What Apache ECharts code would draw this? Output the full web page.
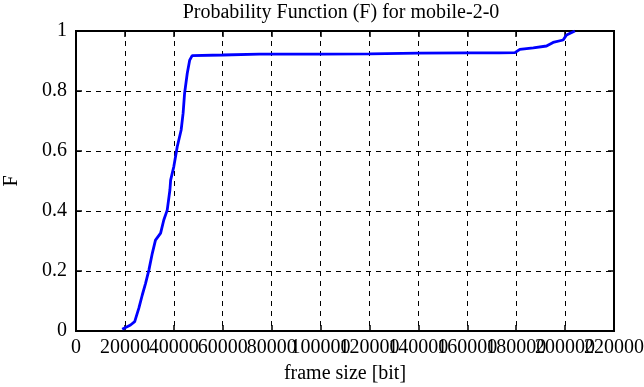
<!DOCTYPE html>
<html>
<head>
<meta charset="utf-8">
<script src="https://cdn.jsdelivr.net/npm/echarts@6/dist/echarts.min.js"></script>
<style>
html,body{margin:0;padding:0;background:#fff;}
#chart{width:644px;height:387px;}
</style>
</head>
<body>
<div id="chart"></div>
<script>
var titleText = 'Probability Function (F) for mobile-2-0';
var xName = 'frame size [bit]';
var yName = 'F';
var frameSize = [18900, 22300, 24000, 25700, 27100, 28450, 29800, 31200, 32500, 34600, 35900, 37300, 38400, 38700, 40000, 41400, 43000, 43800, 44400, 45500, 46500, 47500, 48200, 60000, 75000, 100000, 120000, 140000, 160000, 173000, 179500, 181500, 187000, 192400, 195100, 199200, 200600, 204000];
var probF =     [0.006, 0.020, 0.031, 0.076, 0.120, 0.159, 0.203, 0.259, 0.303, 0.326, 0.370, 0.403, 0.470, 0.503, 0.548, 0.614, 0.670, 0.726, 0.792, 0.859, 0.903, 0.918, 0.920, 0.920, 0.923, 0.923, 0.924, 0.926, 0.927, 0.927, 0.928, 0.939, 0.944, 0.950, 0.962, 0.970, 0.987, 1.000];
var xTicks = [0, 20000, 40000, 60000, 80000, 100000, 120000, 140000, 160000, 180000, 200000, 220000];
var yTicks = [0, 0.2, 0.4, 0.6, 0.8, 1];

var pts = frameSize.map(function(x, i){ return [x, probF[i]]; });
var font = 'Liberation Serif';
var fs = 20;
var xMin = xTicks[0], xMax = xTicks[xTicks.length-1], xStep = xTicks[1]-xTicks[0];
var chart = echarts.init(document.getElementById('chart'));
var gridLine = {show:true, lineStyle:{color:'#000', type:[5,5], width:1}};
var labelStyle = {fontFamily:font, fontSize:fs, color:'#000'};
chart.setOption({
  animation:false,
  backgroundColor:'#fff',
  title:{text:titleText, left:336, textAlign:'center', top:-2,
    textStyle:{fontFamily:font, fontSize:fs, fontWeight:'normal', color:'#000'}},
  grid:{left:76, right:30, top:31, bottom:56, show:true, borderColor:'#000', borderWidth:2,
    containLabel:false, outerBoundsMode:'none'},
  xAxis:[{
    type:'value', min:xMin, max:xMax, interval:xStep,
    name:xName, nameLocation:'middle', nameGap:33,
    nameTextStyle:labelStyle,
    axisLine:{show:true, onZero:false, lineStyle:{color:'#000', width:2}},
    axisTick:{show:true, inside:true, length:6, lineStyle:{color:'#000', width:1.5}},
    axisLabel:Object.assign({margin:7, hideOverlap:false, showMinLabel:true, showMaxLabel:false,
      formatter:function(v){return String(v);}}, labelStyle),
    splitLine:gridLine
  },{
    type:'value', position:'top', min:xMin, max:xMax, interval:xStep,
    axisLine:{show:true, onZero:false, lineStyle:{color:'#000', width:2}},
    axisTick:{show:true, inside:true, length:6, lineStyle:{color:'#000', width:1.5}},
    axisLabel:{show:false}, splitLine:{show:false}
  },{
    type:'value', position:'bottom', min:xMin, max:xMax, interval:xStep,
    axisLine:{show:false}, axisTick:{show:false}, splitLine:{show:false},
    axisLabel:Object.assign({margin:7, hideOverlap:false, showMinLabel:false, showMaxLabel:true,
      formatter:function(v){return v === xMax ? String(v) : '';}}, labelStyle)
  }],
  yAxis:[{
    type:'value', min:yTicks[0], max:yTicks[yTicks.length-1], interval:0.2,
    name:yName, nameLocation:'middle', nameGap:54, nameRotate:90,
    nameTextStyle:labelStyle,
    axisLine:{show:true, onZero:false, lineStyle:{color:'#000', width:2}},
    axisTick:{show:true, inside:true, length:6, lineStyle:{color:'#000', width:1.5}},
    axisLabel:Object.assign({margin:9,
      formatter:function(v){return String(Math.round(v*10)/10);}}, labelStyle),
    splitLine:gridLine
  },{
    type:'value', position:'right', min:yTicks[0], max:yTicks[yTicks.length-1], interval:0.2,
    axisLine:{show:true, onZero:false, lineStyle:{color:'#000', width:2}},
    axisTick:{show:true, inside:true, length:6, lineStyle:{color:'#000', width:1.5}},
    axisLabel:{show:false}, splitLine:{show:false}
  }],
  series:[{
    type:'line', data:pts, xAxisIndex:0, yAxisIndex:0,
    showSymbol:false, smooth:false,
    lineStyle:{color:'#0000ff', width:2.8}, z:5
  }]
});
</script>
</body>
</html>
